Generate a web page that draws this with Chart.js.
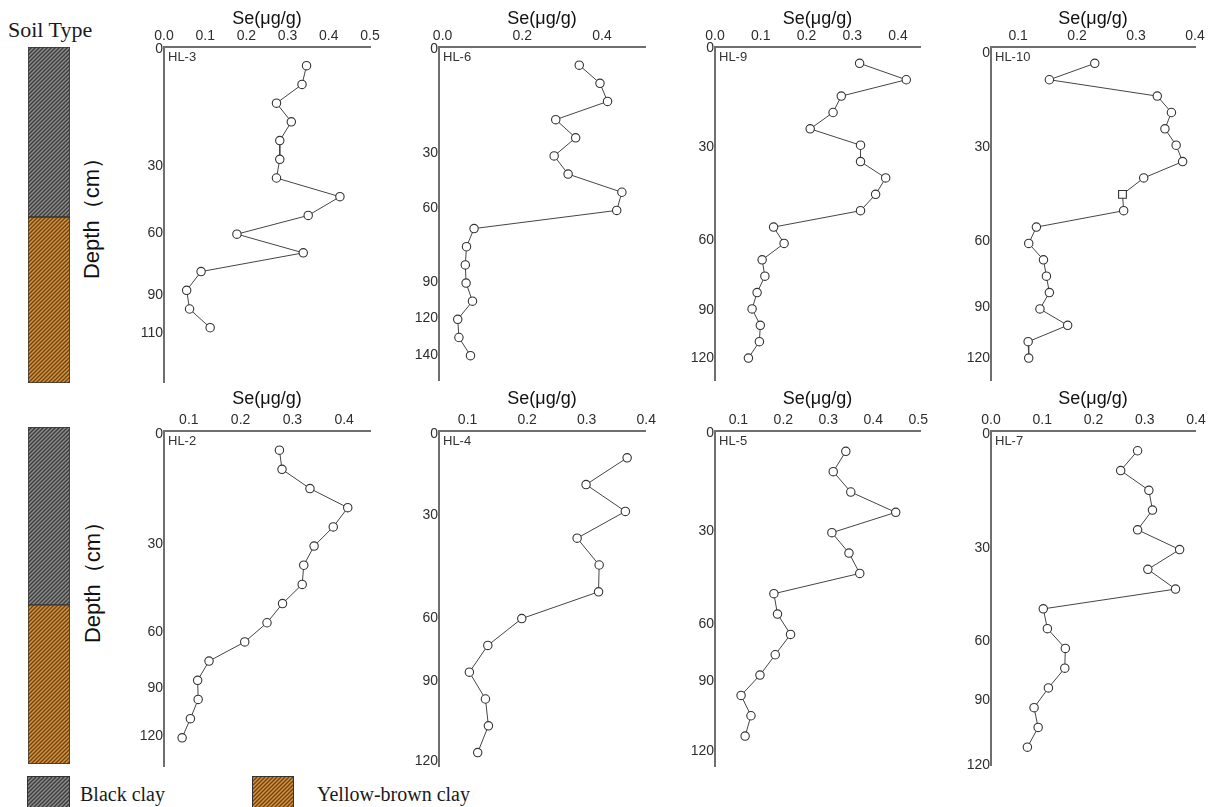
<!DOCTYPE html>
<html>
<head>
<meta charset="utf-8">
<script src="https://cdn.jsdelivr.net/npm/chart.js@4.4.1/dist/chart.umd.min.js"></script>
<style>
  html, body { margin: 0; padding: 0; background: #fff; }
  body { width: 1217px; height: 807px; position: relative; overflow: hidden;
         font-family: "Liberation Sans", Arial, sans-serif; }
  canvas { position: absolute; }
  .serif { position: absolute; font-family: "Liberation Serif", "Times New Roman", serif;
           color: #1a1a1a; white-space: nowrap; }
  .depth { position: absolute; font-size: 22px; line-height: 26px; color: #111; white-space: nowrap;
           transform: translate(-50%, -50%) rotate(-90deg); }
  .swatch { position: absolute; box-sizing: border-box; border: 1px solid #333; }
</style>
</head>
<body>
<div class="serif" style="left:8px; top:17px; font-size:22px; line-height:26px;">Soil Type</div>
<div class="depth" style="left:92px; top:213px;">Depth（cm）</div>
<div class="depth" style="left:93px; top:577px;">Depth（cm）</div>
<div class="swatch" id="swBlack" style="left:27px; top:776px; width:43px; height:33px;"></div>
<div class="serif" style="left:80px; top:782px; font-size:20px; line-height:24px;">Black clay</div>
<div class="swatch" id="swYellow" style="left:252px; top:776px; width:42px; height:33px;"></div>
<div class="serif" style="left:317px; top:782px; font-size:20px; line-height:24px;">Yellow-brown clay</div>

<script>
// ---- Se content (μg/g) of successive samples, top to bottom, per profile ----
const seHL3  = [0.346, 0.335, 0.273, 0.309, 0.281, 0.281, 0.273, 0.427, 0.350, 0.177, 0.338, 0.090, 0.055, 0.062, 0.112];
const seHL6  = [0.343, 0.395, 0.414, 0.284, 0.334, 0.280, 0.315, 0.450, 0.437, 0.079, 0.060, 0.057, 0.059, 0.075, 0.038, 0.041, 0.070];
const seHL9  = [0.316, 0.418, 0.276, 0.258, 0.208, 0.318, 0.318, 0.373, 0.351, 0.318, 0.128, 0.151, 0.103, 0.109, 0.092, 0.081, 0.099, 0.097, 0.073];
const seHL10 = [0.230, 0.153, 0.336, 0.360, 0.349, 0.368, 0.379, 0.313, 0.277, 0.279, 0.131, 0.118, 0.143, 0.148, 0.153, 0.137, 0.184, 0.117, 0.118];
const seHL2  = [0.275, 0.280, 0.334, 0.407, 0.379, 0.342, 0.322, 0.319, 0.281, 0.251, 0.208, 0.139, 0.117, 0.118, 0.103, 0.087];
const seHL4  = [0.368, 0.299, 0.365, 0.284, 0.321, 0.320, 0.191, 0.134, 0.103, 0.130, 0.135, 0.117];
const seHL5  = [0.339, 0.311, 0.350, 0.450, 0.308, 0.346, 0.370, 0.179, 0.187, 0.216, 0.182, 0.148, 0.106, 0.128, 0.115];
const seHL7  = [0.286, 0.253, 0.308, 0.315, 0.286, 0.368, 0.306, 0.360, 0.102, 0.110, 0.145, 0.144, 0.112, 0.084, 0.092, 0.071];

// ---- depth tick labels (cm) and where they sit along the sample sequence ----
const depthLabelsHL3  = ['0', '30', '60', '90', '110'];
const depthAtHL3      = [0.1, 6.37, 9.95, 13.27, 15.3];
const depthLabelsHL6  = ['0', '30', '60', '90', '120', '140'];
const depthAtHL6      = [0.1, 5.85, 8.88, 12.95, 14.93, 16.96];
const depthLabelsStd  = ['0', '30', '60', '90', '120'];
const depthAtHL9      = [0.1, 6.1, 11.8, 16.06, 19.0];
const depthAtHL10     = [0.4, 6.1, 11.84, 15.9, 19.0];
const depthAtHL2      = [0.17, 5.9, 10.5, 13.4, 15.9];
const depthAtHL4      = [0.12, 3.15, 6.98, 9.34, 12.32];
const depthAtHL5      = [0.11, 4.94, 9.52, 12.3, 15.74];
const depthAtHL7      = [0.17, 5.93, 10.65, 13.6, 16.9];

// ---- Se axis ticks ----
const seTicksTenths  = [0.0, 0.1, 0.2, 0.3, 0.4, 0.5];
const seTicksFifths  = [0.0, 0.2, 0.4];
const seTicks0to4    = [0.0, 0.1, 0.2, 0.3, 0.4];
const seTicks1to4    = [0.1, 0.2, 0.3, 0.4];
const seTicks1to5    = [0.1, 0.2, 0.3, 0.4, 0.5];

// ---- soil column: share of black clay (%), upper and lower profile columns ----
const blackClayShare = [50.6, 52.8];

// ---- layout ----
const AXIS = '#6f6f6f', TICK = '#2e2e2e';
const FONT = '"Liberation Sans", Arial, sans-serif';
const PAD_L = 44, PAD_T = 47, PAD_R = 14, PAD_B = 10;

const panels = [
  { name: 'HL-3',  se: seHL3,  seTicks: seTicksTenths, xMin: 0,      xMax: 0.5,   yMax: 17.9,  labels: depthLabelsHL3, at: depthAtHL3,  area: [164, 47, 370, 382], titlePad: 8 },
  { name: 'HL-6',  se: seHL6,  seTicks: seTicksFifths, xMin: -0.009, xMax: 0.508, yMax: 18.34, labels: depthLabelsHL6, at: depthAtHL6,  area: [439, 47, 645, 380], titlePad: 8 },
  { name: 'HL-9',  se: seHL9,  seTicks: seTicks0to4,   xMin: 0,      xMax: 0.448, yMax: 20.34, labels: depthLabelsStd, at: depthAtHL9,  area: [715, 47, 920, 380], titlePad: 8 },
  { name: 'HL-10', se: seHL10, seTicks: seTicks1to4,   xMin: 0.054,  xMax: 0.4,   yMax: 20.34, labels: depthLabelsStd, at: depthAtHL10, area: [991, 47, 1195, 380], titlePad: 8, squareAt: 8 },
  { name: 'HL-2',  se: seHL2,  seTicks: seTicks1to4,   xMin: 0.052,  xMax: 0.45,  yMax: 17.47, labels: depthLabelsStd, at: depthAtHL2,  area: [164, 431, 370, 766], titlePad: 4 },
  { name: 'HL-4',  se: seHL4,  seTicks: seTicks1to4,   xMin: 0.052,  xMax: 0.398, yMax: 12.5,  labels: depthLabelsStd, at: depthAtHL4,  area: [439, 431, 645, 766], titlePad: 4 },
  { name: 'HL-5',  se: seHL5,  seTicks: seTicks1to5,   xMin: 0.048,  xMax: 0.504, yMax: 16.47, labels: depthLabelsStd, at: depthAtHL5,  area: [715, 431, 920, 766], titlePad: 4 },
  { name: 'HL-7',  se: seHL7,  seTicks: seTicks0to4,   xMin: 0,      xMax: 0.398, yMax: 16.9,  labels: depthLabelsStd, at: depthAtHL7,  area: [991, 431, 1195, 765], titlePad: 4 }
];

// profile name in the upper-left corner of each plot area
const nameTag = {
  id: 'nameTag',
  afterDraw(chart) {
    const { ctx, chartArea } = chart;
    ctx.save();
    ctx.font = '13px ' + FONT;
    ctx.fillStyle = '#333';
    ctx.textBaseline = 'middle';
    ctx.fillText(chart.data.datasets[0].label, chartArea.left + 4, chartArea.top + 10);
    ctx.restore();
  }
};

function placeCanvas(left, top, w, h) {
  const cv = document.createElement('canvas');
  cv.width = w; cv.height = h;
  cv.style.left = left + 'px'; cv.style.top = top + 'px';
  cv.style.width = w + 'px'; cv.style.height = h + 'px';
  document.body.appendChild(cv);
  return cv;
}

function makePanel(p) {
  const [L, T, R, B] = p.area;
  const w = R - L + PAD_L + PAD_R, h = B - T + PAD_T + PAD_B;
  const cv = placeCanvas(L - PAD_L, T - PAD_T, w, h);
  const isSquare = ctx => ctx.dataIndex === p.squareAt;
  new Chart(cv, {
    type: 'line',
    data: {
      datasets: [{
        label: p.name,
        data: p.se.map((v, i) => ({ x: v, y: i + 1 })),
        borderColor: '#454545',
        borderWidth: 1,
        pointRadius: ctx => (isSquare(ctx) ? 5.5 : 4.2),
        pointBorderWidth: 1.1,
        pointBorderColor: '#333',
        pointBackgroundColor: '#fff',
        pointStyle: ctx => (isSquare(ctx) ? 'rect' : 'circle'),
        tension: 0,
        clip: false
      }]
    },
    options: {
      responsive: false,
      animation: false,
      devicePixelRatio: 1,
      layout: { padding: { left: 0, top: 0, right: PAD_R, bottom: PAD_B } },
      plugins: { legend: { display: false }, tooltip: { enabled: false } },
      scales: {
        x: {
          type: 'linear', position: 'top', min: p.xMin, max: p.xMax,
          grid: { display: false, drawTicks: false },
          border: { display: true, color: AXIS, width: 2 },
          ticks: { font: { size: 14, family: FONT }, color: TICK,
                   padding: 2, autoSkip: false, maxRotation: 0, callback: v => v.toFixed(1) },
          title: { display: true, text: 'Se(μg/g)', color: '#111',
                   font: { size: 18, family: FONT },
                   padding: { top: p.titlePad, bottom: 0 } },
          afterBuildTicks: s => { s.ticks = p.seTicks.map(v => ({ value: v })); },
          afterFit: s => { s.height = PAD_T; }
        },
        y: {
          type: 'linear', position: 'left', reverse: true, min: 0, max: p.yMax,
          grid: { display: false, drawTicks: false },
          border: { display: true, color: AXIS, width: 2 },
          ticks: { font: { size: 14, family: FONT }, color: TICK,
                   padding: 1, autoSkip: false, callback: (v, i) => p.labels[i] },
          afterBuildTicks: s => { s.ticks = p.at.map(v => ({ value: v })); },
          afterFit: s => { s.width = PAD_L; }
        }
      }
    },
    plugins: [nameTag]
  });
}

// diagonal hatch tiles for the two soil types
function hatchTile(base, stripe) {
  const t = document.createElement('canvas');
  t.width = 4; t.height = 4;
  const c = t.getContext('2d');
  c.fillStyle = base; c.fillRect(0, 0, 4, 4);
  c.strokeStyle = stripe; c.lineWidth = 1.3;
  c.beginPath();
  c.moveTo(-1, 5); c.lineTo(5, -1);
  c.moveTo(-3, 3); c.lineTo(3, -3);
  c.moveTo(1, 7); c.lineTo(7, 1);
  c.stroke();
  return t;
}
const tileBlack = hatchTile('#8a8a8a', '#3b3b3b');
const tileYellow = hatchTile('#d69139', '#6a4315');
const patCtx = document.createElement('canvas').getContext('2d');
const patBlack = patCtx.createPattern(tileBlack, 'repeat');
const patYellow = patCtx.createPattern(tileYellow, 'repeat');

document.getElementById('swBlack').style.backgroundImage = 'url(' + tileBlack.toDataURL() + ')';
document.getElementById('swYellow').style.backgroundImage = 'url(' + tileYellow.toDataURL() + ')';

function makeColumn(left, top, w, h, share) {
  const cv = placeCanvas(left, top, w, h);
  new Chart(cv, {
    type: 'bar',
    data: {
      labels: ['Soil Type'],
      datasets: [
        { label: 'Black clay', data: [[0, share]], backgroundColor: patBlack },
        { label: 'Yellow-brown clay', data: [[share, 100]], backgroundColor: patYellow }
      ]
    },
    options: {
      responsive: false,
      animation: false,
      devicePixelRatio: 1,
      layout: { padding: 0 },
      datasets: { bar: { grouped: false, barPercentage: 1, categoryPercentage: 1,
                         borderColor: '#333', borderWidth: 1, borderSkipped: false } },
      plugins: { legend: { display: false }, tooltip: { enabled: false } },
      scales: {
        x: { display: false },
        y: { display: false, min: 0, max: 100, reverse: true }
      }
    }
  });
}

panels.forEach(makePanel);
makeColumn(28, 47, 42, 336, blackClayShare[0]);
makeColumn(28, 427, 42, 337, blackClayShare[1]);
</script>
</body>
</html>
